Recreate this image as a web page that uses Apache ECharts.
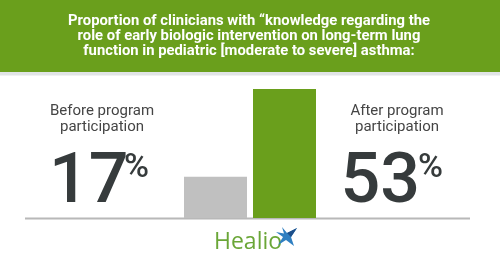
<!DOCTYPE html>
<html><head><meta charset="utf-8">
<script src="https://cdn.jsdelivr.net/npm/echarts@6/dist/echarts.min.js"></script>
<style>html,body{margin:0;padding:0;background:#fff}#c{width:500px;height:263px}</style>
</head><body><div id="c"></div>
<script>
const titleLines = ["Proportion of clinicians with “knowledge regarding the", "role of early biologic intervention on long-term lung", "function in pediatric [moderate to severe] asthma:"];
const categories = ["Before program participation", "After program participation"];
const labelLines = [["Before program", "participation"], ["After program", "participation"]];
const values = [17, 53];
const barColors = ["#c0c0c0", "#6a9f1c"];

const chart = echarts.init(document.getElementById('c'), null, {renderer: 'canvas'});
const green = '#6a9f1c';
const dark = '#363b3c';
const titleFont = 'bold 15.5px Roboto';

// condense the title to mimic a condensed typeface
const mctx = document.createElement('canvas').getContext('2d');
mctx.font = titleFont;
const titleScale = 362 / mctx.measureText(titleLines[0]).width;

const numX = [128.5, 420];
const pctX = [124, 418];
const labelX = [102, 397];
const graphics = [
  {type: 'rect', shape: {x: 0, y: 0, width: 500, height: 72}, style: {fill: green}, z: 0, silent: true},
  {type: 'rect', shape: {x: 0, y: 72, width: 500, height: 3.5}, style: {fill: '#e1e4e6'}, z: 0, silent: true},
  {type: 'line', shape: {x1: 25, y1: 218.5, x2: 470, y2: 218.5}, style: {stroke: '#b8b8b8', lineWidth: 2}, z: 0, silent: true},
  {type: 'text', x: 249, y: 36, scaleX: titleScale, silent: true,
    style: {text: titleLines.join('\n'), fill: '#ffffff', font: titleFont, align: 'center', verticalAlign: 'middle', lineHeight: 15}}
];
for (let i = 0; i < 2; i++) {
  graphics.push({type: 'text', x: labelX[i], y: 119, silent: true,
    style: {text: labelLines[i].join('\n'), fill: '#454545', font: '400 15px Roboto', align: 'center', verticalAlign: 'middle', lineHeight: 16}});
  graphics.push({type: 'text', x: numX[i], y: 184.5, silent: true,
    style: {text: String(values[i]), fill: dark, font: '500 70px Roboto', align: 'right', verticalAlign: 'middle'}});
  graphics.push({type: 'text', x: pctX[i], y: 168, silent: true,
    style: {text: '%', fill: dark, font: '500 34px Roboto', align: 'left', verticalAlign: 'middle'}});
}
// Healio logo
graphics.push({type: 'text', x: 214, y: 242.5, silent: true,
  style: {text: 'Healio', fill: '#6aa637', font: '400 23px "Open Sans"', align: 'left', verticalAlign: 'middle'}});
graphics.push({type: 'polygon', silent: true,
  shape: {points: [[282, 227], [287, 233], [297, 228], [291, 237], [294, 246], [286, 240], [278, 245], [283, 237], [276, 232], [284, 233.5]]},
  style: {fill: '#2f7fc1'}});
graphics.push({type: 'polygon', silent: true,
  shape: {points: [[287, 233], [297, 228], [291, 237]]},
  style: {fill: '#1d4f8a'}});

chart.setOption({
  animation: false,
  grid: {left: 181, right: 181, top: 72, bottom: 45},
  xAxis: {type: 'category', data: categories, show: false},
  yAxis: {type: 'value', min: 0, max: 60, show: false},
  series: [{
    type: 'bar', barWidth: 63,
    data: values.map((v, i) => ({value: v, itemStyle: {color: barColors[i]}})),
    z: 2
  }],
  graphic: graphics
});
</script></body></html>
